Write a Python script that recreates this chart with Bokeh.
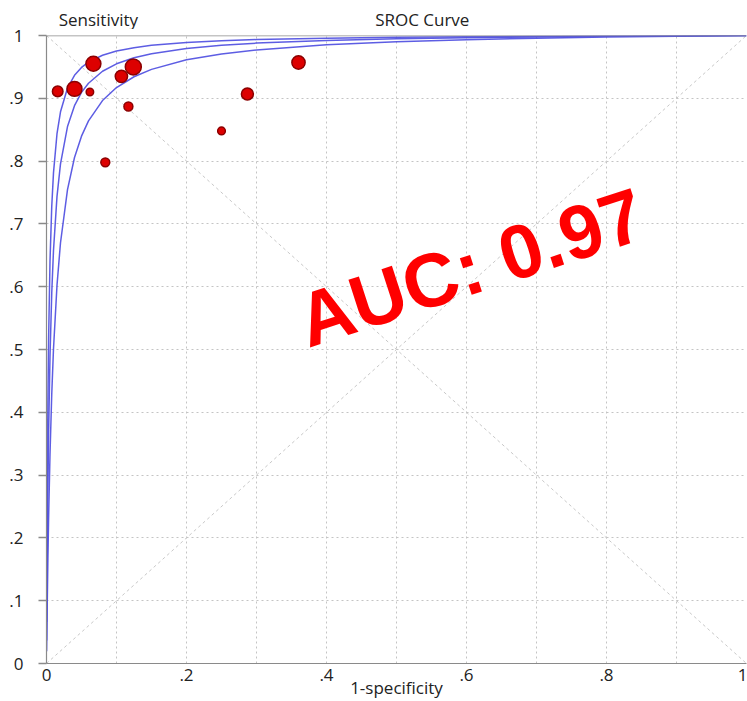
import math
from bokeh.plotting import figure
from bokeh.layouts import column
from bokeh.models import Range1d, FixedTicker, Label, Span, ColumnDataSource
from bokeh.embed import file_html
from bokeh.resources import INLINE

# ---- data ----
study_fpr = [0.016, 0.040, 0.062, 0.067, 0.107, 0.124, 0.117, 0.084, 0.250, 0.287, 0.360]
study_sens = [0.911, 0.915, 0.910, 0.955, 0.935, 0.950, 0.887, 0.798, 0.848, 0.907, 0.957]
study_weight = [7, 14, 3.5, 14, 9.5, 16, 5, 5, 3.7, 9, 11]

curve_fpr = [0.0002, 0.0005, 0.001, 0.002, 0.003, 0.005, 0.0075, 0.01, 0.015, 0.02,
             0.03, 0.04, 0.05, 0.06, 0.08, 0.1, 0.125, 0.15, 0.2, 0.25, 0.3,
             0.4, 0.5, 0.6, 0.7, 0.8, 0.9, 1.0]
upper_sens = [0.0662, 0.1506, 0.2618, 0.4152, 0.5160, 0.6403, 0.7281, 0.7816, 0.8436, 0.8785,
              0.9164, 0.9366, 0.9491, 0.9577, 0.9686, 0.9752, 0.9806, 0.9843, 0.9888, 0.9916, 0.9935,
              0.9958, 0.9972, 0.9981, 0.9988, 0.9993, 0.9997, 1.0]
sroc_sens = [0.0367, 0.0870, 0.1602, 0.2764, 0.3645, 0.4892, 0.5902, 0.6581, 0.7438, 0.7955,
             0.8550, 0.8882, 0.9094, 0.9240, 0.9431, 0.9549, 0.9646, 0.9711, 0.9794, 0.9845, 0.9879,
             0.9922, 0.9948, 0.9965, 0.9978, 0.9987, 0.9994, 1.0]
lower_sens = [0.0195, 0.0474, 0.0906, 0.1662, 0.2304, 0.3333, 0.4292, 0.5013, 0.6024, 0.6700,
              0.7547, 0.8057, 0.8397, 0.8640, 0.8964, 0.9171, 0.9343, 0.9461, 0.9614, 0.9707, 0.9771,
              0.9851, 0.9900, 0.9933, 0.9957, 0.9975, 0.9989, 1.0]

diag_x = [0.0, 1.0]
diag_up = [0.0, 1.0]
diag_down = [1.0, 0.0]

x_ticks = [0.0, 0.2, 0.4, 0.6, 0.8, 1.0]
x_tick_labels = ["0", ".2", ".4", ".6", ".8", "1"]
y_ticks = [0.0, 0.1, 0.2, 0.3, 0.4, 0.5, 0.6, 0.7, 0.8, 0.9, 1.0]
y_tick_labels = ["0", ".1", ".2", ".3", ".4", ".5", ".6", ".7", ".8", ".9", "1"]
grid_ticks = [0.1, 0.2, 0.3, 0.4, 0.5, 0.6, 0.7, 0.8, 0.9]

title_text = "SROC Curve"
y_title = "Sensitivity"
x_title = "1-specificity"
auc_text = "AUC: 0.97"

FONT = "Open Sans"
TXT = "#222222"
W = 747
HEAD_H = 29
OVERLAP = 6

# ---- header strip (titles) ----
head = figure(width=W, height=HEAD_H, output_backend="svg", toolbar_location=None,
              x_range=Range1d(0, W), y_range=Range1d(0, HEAD_H),
              x_axis_location=None, y_axis_location=None, min_border=0)
head.outline_line_color = None
head.xgrid.visible = False
head.ygrid.visible = False
head.add_layout(Label(x=13, y=10.5, text=y_title, text_font=FONT, text_font_size="17px",
                      text_color=TXT, text_align="left", text_baseline="alphabetic"))
head.add_layout(Label(x=401, y=10.5, text=title_text, text_font=FONT, text_font_size="17px",
                      text_color=TXT, text_align="center", text_baseline="alphabetic"))

# ---- main chart (overlaps header slightly, transparent border) ----
p = figure(width=W, height=701 - HEAD_H + OVERLAP, output_backend="svg", toolbar_location=None,
           x_range=Range1d(0, 1), y_range=Range1d(0, 1),
           min_border_left=46, min_border_right=1, min_border_top=6 + OVERLAP,
           min_border_bottom=38, margin=(-OVERLAP, 0, 0, 0))
p.outline_line_color = None
p.background_fill_color = "white"
p.border_fill_alpha = 0.0

for g in (p.xgrid, p.ygrid):
    g.ticker = FixedTicker(ticks=grid_ticks)
    g.grid_line_color = "#c4c4c4"
    g.grid_line_dash = "2 3"
    g.grid_line_width = 1

p.xaxis.ticker = FixedTicker(ticks=x_ticks)
p.xaxis.major_label_overrides = {t: l for t, l in zip(x_ticks, x_tick_labels)}
p.yaxis.ticker = FixedTicker(ticks=y_ticks)
p.yaxis.major_label_overrides = {t: l for t, l in zip(y_ticks, y_tick_labels)}
for ax in (p.xaxis[0], p.yaxis[0]):
    ax.axis_line_color = "#8a8a8a"
    ax.axis_line_width = 1.2
    ax.major_tick_line_color = "#8a8a8a"
    ax.major_tick_line_width = 1.5
    ax.minor_tick_line_color = None
    ax.major_label_text_font = FONT
    ax.major_label_text_font_size = "17px"
    ax.major_label_text_color = TXT
p.xaxis.major_tick_out = 0
p.xaxis.major_tick_in = 0
p.xaxis.major_label_standoff = 5
p.xaxis.axis_label = x_title
p.xaxis.axis_label_text_font = FONT
p.xaxis.axis_label_text_font_size = "17px"
p.xaxis.axis_label_text_font_style = "normal"
p.xaxis.axis_label_text_color = TXT
p.xaxis.axis_label_standoff = -8
p.yaxis.major_tick_out = 8
p.yaxis.major_tick_in = 0
p.yaxis.major_label_standoff = 15

# top frame line
p.add_layout(Span(location=1, dimension="width", line_color="#8a8a8a", line_width=1.5))

# diagonals
p.line(diag_x, diag_up, line_color="#c8c8c8", line_dash="3 3", line_width=1)
p.line(diag_x, diag_down, line_color="#c8c8c8", line_dash="3 3", line_width=1)

# SROC curve and its bounds
for ys in (upper_sens, sroc_sens, lower_sens):
    p.line(curve_fpr, ys, line_color="#4b4be0", line_width=1.5, line_alpha=0.9)

# studies
src = ColumnDataSource(dict(x=study_fpr, y=study_sens,
                            s=[4.0 * math.sqrt(w) for w in study_weight]))
p.scatter("x", "y", source=src, size="s", marker="circle",
          fill_color="#dd0000", line_color="#8b0000", line_width=1.5)

p.add_layout(Label(x=0.606, y=0.631, text=auc_text, text_font="Liberation Sans",
                   text_font_style="bold", text_font_size="76px", text_color="#ff0000",
                   text_align="center", text_baseline="alphabetic",
                   angle=18, angle_units="deg"))

layout = column(head, p, spacing=0)
open("out.html", "w").write(file_html(layout, INLINE))
